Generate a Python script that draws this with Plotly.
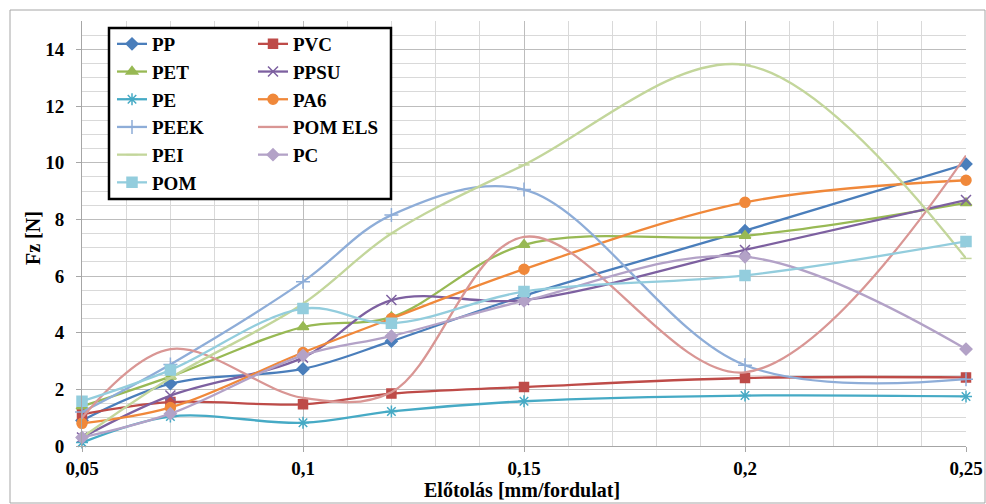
import plotly.graph_objects as go

# Data
x_vals = [0.05, 0.07, 0.1, 0.12, 0.15, 0.2, 0.25]
pp = [0.9, 2.2, 2.72, 3.7, 5.3, 7.6, 9.95]
pvc = [1.12, 1.55, 1.47, 1.85, 2.08, 2.4, 2.42]
pet = [1.4, 2.45, 4.2, 4.55, 7.1, 7.42, 8.58]
ppsu = [0.3, 1.78, 3.12, 5.15, 5.15, 6.92, 8.68]
pe = [0.12, 1.04, 0.82, 1.22, 1.58, 1.78, 1.75]
pa6 = [0.8, 1.36, 3.3, 4.5, 6.24, 8.6, 9.38]
peek = [1.2, 2.88, 5.8, 8.15, 9.05, 2.85, 2.36]
pom_els = [1.0, 3.42, 1.7, 1.9, 7.38, 2.6, 10.25]
pei = [0.3, 2.4, 5.02, 7.5, 9.92, 13.45, 6.62]
pc = [0.3, 1.14, 3.2, 3.88, 5.12, 6.68, 3.42]
pom = [1.58, 2.68, 4.85, 4.33, 5.45, 6.02, 7.22]

series = [
    # name, values, color, symbol, size, legend
    ("PP", pp, "#4A7EBB", "diamond", 9, "legend"),
    ("PVC", pvc, "#BE4B48", "square", 9, "legend2"),
    ("PET", pet, "#98B954", "triangle-up", 10, "legend"),
    ("PPSU", ppsu, "#7D60A0", "x-thin-open", 10, "legend2"),
    ("PE", pe, "#46AAC5", "asterisk-open", 10, "legend"),
    ("PA6", pa6, "#F0883A", "circle", 10, "legend2"),
    ("PEEK", peek, "#8EADD8", "cross-thin-open", 10, "legend"),
    ("POM ELS", pom_els, "#D99694", None, 0, "legend2"),
    ("PEI", pei, "#C3D69B", "line-ew-open", 8, "legend"),
    ("PC", pc, "#B3A2C7", "diamond", 9, "legend2"),
    ("POM", pom, "#93CDDD", "square", 10, "legend"),
]

W, H = 986, 504
L, R, T, B = 82, 20, 21, 58
pw = W - L - R
ph = H - T - B


def px_x(px):
    return (px - L) / pw


def px_y(py):
    return (H - B - py) / ph


fig = go.Figure()
for i, (name, vals, color, symbol, size, leg) in enumerate(series):
    kw = {}
    if symbol:
        mode = "lines+markers"
        kw["marker"] = dict(symbol=symbol, size=size, color=color,
                            line=dict(color=color, width=1.5))
    else:
        mode = "lines"
    fig.add_trace(go.Scatter(
        x=x_vals, y=vals, name=name, mode=mode,
        line=dict(color=color, width=2.3, shape="spline", smoothing=1.0),
        cliponaxis=False, legend=leg, legendgroup=name, **kw))

font_family = "Liberation Serif, Times New Roman, serif"

fig.update_layout(
    width=W, height=H,
    margin=dict(l=L, r=R, t=T, b=B, autoexpand=False),
    paper_bgcolor="white", plot_bgcolor="white",
    separators=",.",
    font=dict(family=font_family, size=16, color="black"),
    xaxis=dict(
        range=[0.05, 0.25], dtick=0.05, tick0=0.05, automargin=False,
        showgrid=True, gridcolor="#BDBDBD", gridwidth=1,
        minor=dict(dtick=0.01, showgrid=True, gridcolor="#D9D9D9", gridwidth=1),
        showline=True, linecolor="#A6A6A6", linewidth=1,
        ticks="outside", ticklen=5, tickcolor="#A6A6A6",
        tickfont=dict(family=font_family, size=19, color="black", weight="bold"),
        zeroline=False,
    ),
    yaxis=dict(
        range=[0, 15], dtick=2, tick0=0, automargin=False,
        showgrid=True, gridcolor="#BDBDBD", gridwidth=1,
        minor=dict(dtick=0.5, showgrid=True, gridcolor="#D9D9D9", gridwidth=1),
        showline=True, linecolor="#A6A6A6", linewidth=1,
        ticks="outside", ticklen=5, tickcolor="#A6A6A6",
        tickfont=dict(family=font_family, size=19, color="black", weight="bold"),
        ticklabelstandoff=8,
        zeroline=False,
    ),
    legend=dict(
        x=px_x(112), y=px_y(25), xanchor="left", yanchor="top",
        bgcolor="rgba(0,0,0,0)", borderwidth=0,
        font=dict(family=font_family, size=19, color="black", weight="bold"),
        tracegroupgap=0, itemwidth=30,
    ),
    legend2=dict(
        x=px_x(253), y=px_y(25), xanchor="left", yanchor="top",
        bgcolor="rgba(0,0,0,0)", borderwidth=0,
        font=dict(family=font_family, size=19, color="black", weight="bold"),
        tracegroupgap=0, itemwidth=30,
    ),
    showlegend=True,
)

# Legend frame
fig.add_shape(type="rect", xref="paper", yref="paper",
              x0=px_x(109), x1=px_x(391), y0=px_y(199), y1=px_y(28),
              line=dict(color="black", width=2.5), fillcolor="white", layer="above")
# Chart border
fig.add_shape(type="rect", xref="paper", yref="paper",
              x0=px_x(10), x1=px_x(985), y0=px_y(503), y1=px_y(10),
              line=dict(color="#A6A6A6", width=1), fillcolor="rgba(0,0,0,0)", layer="below")

fig.add_annotation(text="Előtolás [mm/fordulat]", xref="paper", yref="paper",
                   x=px_x(522), y=px_y(490), xanchor="center", yanchor="middle",
                   showarrow=False,
                   font=dict(family=font_family, size=20, color="black", weight="bold"))
fig.add_annotation(text="Fz [N]", xref="paper", yref="paper",
                   x=px_x(33), y=px_y(238), xanchor="center", yanchor="middle",
                   textangle=-90, showarrow=False,
                   font=dict(family=font_family, size=20, color="black", weight="bold"))

fig.write_html("out.html", config={"displayModeBar": False},
               post_script="document.body.style.margin='0';document.body.style.overflow='hidden';")
